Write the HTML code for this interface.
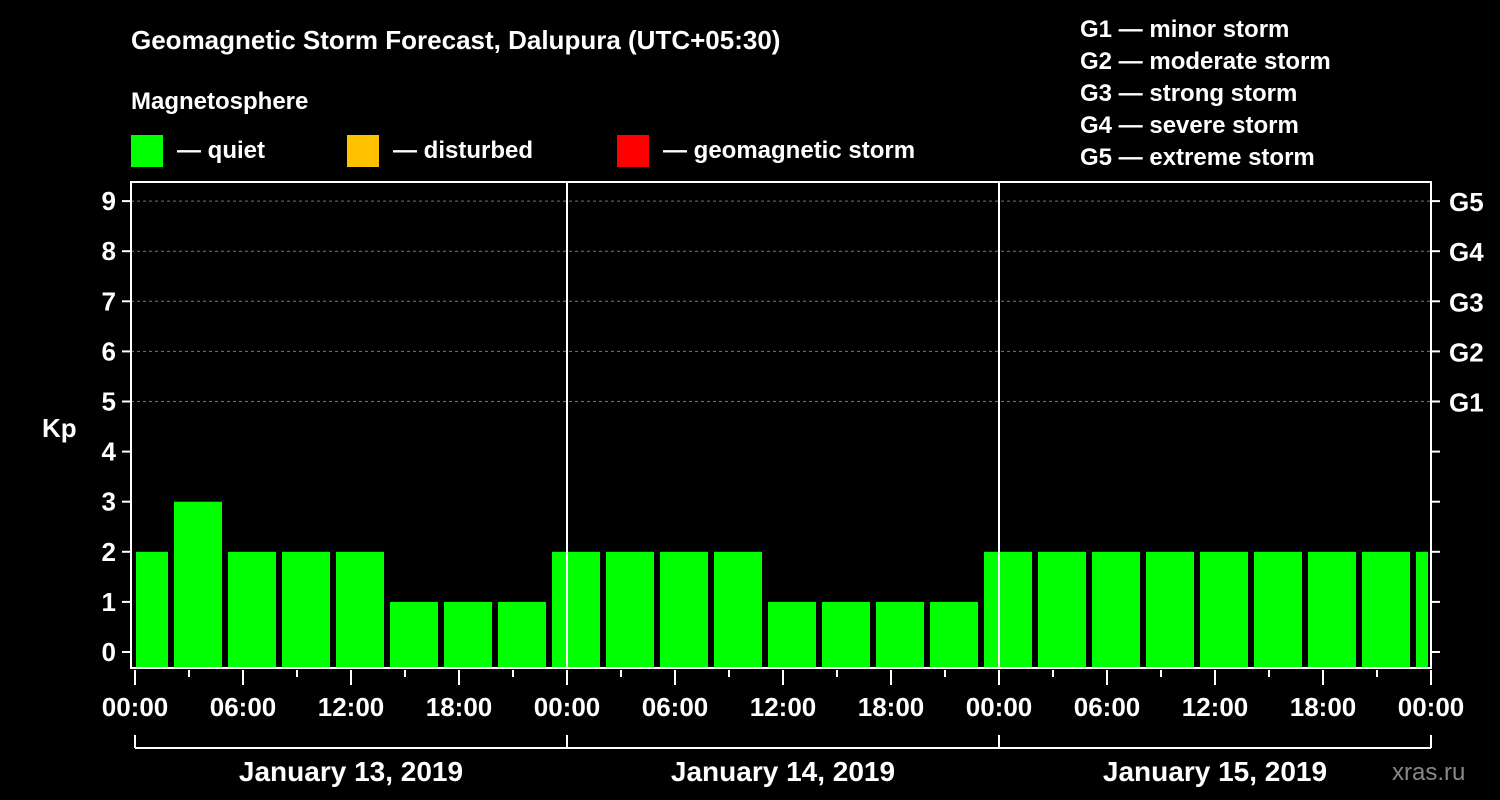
<!DOCTYPE html>
<html><head><meta charset="utf-8"><style>
body{margin:0;background:#000;}
svg{display:block;font-family:"Liberation Sans",sans-serif;font-weight:bold;}
</style></head><body>
<svg id="chart" width="1500" height="800" viewBox="0 0 1500 800" xmlns="http://www.w3.org/2000/svg">
<rect width="1500" height="800" fill="#000"/>
<text x="131" y="49" fill="#fff" font-size="26">Geomagnetic Storm Forecast, Dalupura (UTC+05:30)</text>
<text x="131" y="109" fill="#fff" font-size="24">Magnetosphere</text>
<g><rect x="131" y="135" width="32" height="32" fill="#00ff00"/><text x="177" y="158" fill="#fff" font-size="24">— quiet</text></g>
<g><rect x="347" y="135" width="32" height="32" fill="#ffc000"/><text x="393" y="158" fill="#fff" font-size="24">— disturbed</text></g>
<g><rect x="617" y="135" width="32" height="32" fill="#ff0000"/><text x="663" y="158" fill="#fff" font-size="24">— geomagnetic storm</text></g>
<g fill="#fff" font-size="24">
<text x="1080" y="37">G1 — minor storm</text>
<text x="1080" y="69">G2 — moderate storm</text>
<text x="1080" y="101">G3 — strong storm</text>
<text x="1080" y="133">G4 — severe storm</text>
<text x="1080" y="165">G5 — extreme storm</text>
</g>
<text x="42" y="437" fill="#fff" font-size="26">Kp</text>
<g id="grid"></g><g id="bars"></g><g id="axes"></g>
<text x="1392" y="780" fill="#888" font-size="24" font-weight="normal">xras.ru</text>
</svg>
<script>
const startHours=[-1,2,5,8,11,14,17,20,23,26,29,32,35,38,41,44,47,50,53,56,59,62,65,68,71];
const kpValues=[2,3,2,2,2,1,1,1,2,2,2,2,1,1,1,1,2,2,2,2,2,2,2,2,2];
const kpTicks=[0,1,2,3,4,5,6,7,8,9];
const gLabels=["G1","G2","G3","G4","G5"];
const hourLabels=["00:00","06:00","12:00","18:00"];
const dayLabels=["January 13, 2019","January 14, 2019","January 15, 2019"];
const NS="http://www.w3.org/2000/svg";
const L=131,R=1431,T=182,B=668,X0=135,PXH=18;
const x=h=>X0+h*PXH;
const y=v=>652-v*50.1;
function mk(tag,a,parent,txt){const e=document.createElementNS(NS,tag);for(const k in a)e.setAttribute(k,a[k]);if(txt!==undefined)e.textContent=txt;document.getElementById(parent).appendChild(e);return e;}
const colorFor=v=>v>=5?"#ff0000":v>=4?"#ffc000":"#00ff00";
// grid
kpTicks.forEach(v=>{if(v>=5){const g=mk('line',{x1:L,x2:R,y1:y(v),y2:y(v),stroke:'#777','stroke-dasharray':'3,3'},'grid');

}});
// bars
startHours.forEach((h,i)=>{let x1=Math.max(x(h)+3,L+5),x2=Math.min(x(h+3)-3,R-3);
const b=mk('rect',{x:x1,y:y(kpValues[i]),width:x2-x1,height:B-y(kpValues[i]),fill:colorFor(kpValues[i])},'bars');

});
// frame & day lines
const f=mk('rect',{x:L,y:T,width:R-L,height:B-T,fill:'none',stroke:'#fff','stroke-width':2},'axes');


[1,2].forEach(d=>{const l=mk('line',{x1:x(24*d),x2:x(24*d),y1:T,y2:B,stroke:'#fff','stroke-width':2},'axes');

});
// y ticks
kpTicks.forEach(v=>{mk('line',{x1:L-9,x2:L,y1:y(v),y2:y(v),stroke:'#fff','stroke-width':2},'axes');
mk('line',{x1:R,x2:R+9,y1:y(v),y2:y(v),stroke:'#fff','stroke-width':2},'axes');
const t=mk('text',{x:L-15,y:y(v)+9,fill:'#fff','font-size':26,'text-anchor':'end'},'axes',String(v));

});
gLabels.forEach((g,i)=>{const t=mk('text',{x:R+18,y:y(5+i)+10,fill:'#fff','font-size':26},'axes',g);

});
// x ticks
for(let h=0;h<=72;h+=3){const major=h%6===0;mk('line',{x1:x(h),x2:x(h),y1:B+2,y2:B+(major?17:9),stroke:'#fff','stroke-width':2},'axes');
if(major){const t=mk('text',{x:x(h),y:716,fill:'#fff','font-size':26,'text-anchor':'middle'},'axes',hourLabels[(h/6)%4]);

}}
// day bracket
mk('line',{x1:x(0),x2:x(72),y1:748,y2:748,stroke:'#fff','stroke-width':2},'axes');
for(let d=0;d<=3;d++)mk('line',{x1:x(24*d),x2:x(24*d),y1:735,y2:748,stroke:'#fff','stroke-width':2},'axes');
dayLabels.forEach((s,d)=>{const t=mk('text',{x:x(24*d+12),y:781,fill:'#fff','font-size':28,'text-anchor':'middle'},'axes',s);

});
</script>
</body></html>
